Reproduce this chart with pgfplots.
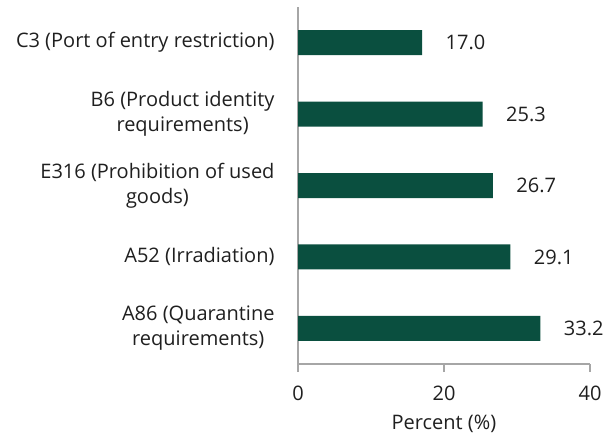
\documentclass[border=0pt]{standalone}
\usepackage{pgfplots}
\pgfplotsset{compat=1.18}
\usepackage{fontspec}
\setmainfont{Open Sans}
\definecolor{bargreen}{HTML}{0A4F3F}
\definecolor{axgray}{HTML}{A6A6A6}
\definecolor{txt}{HTML}{1F1F1F}
\newcommand{\lblfont}{\fontsize{20bp}{25bp}\selectfont}
\begin{document}
\begin{tikzpicture}
\begin{axis}[
  at={(298bp,71bp)}, anchor=south west,
  width=292bp, height=357bp, scale only axis,
  xbar, bar width=25bp, bar shift=0pt,
  xmin=0, xmax=40, ymin=0.5, ymax=5.5, y dir=reverse,
  xtick={0,20,40}, ytick={1,2,3,4,5},
  yticklabels={C3 (Port of entry restriction),
               {B6 (Product identity\\requirements)},
               {E316 (Prohibition of used\\goods)},
               A52 (Irradiation),
               {A86 (Quarantine\\requirements)}},
  axis x line*=bottom, axis y line*=left,
  axis line style={axgray, line width=1.5bp},
  xtick style={axgray, line width=1.5bp},
  ytick style={draw=none},
  tick align=outside, major tick length=8bp,
  /pgf/number format/assume math mode=true,
  xticklabel style={text=txt, font=\lblfont, yshift=-10bp},
  yticklabel style={text=txt, align=center, xshift=-12bp, font=\lblfont},
  xlabel={Percent (\%)},
  xlabel style={text=txt, font=\lblfont, yshift=-8bp},
  nodes near coords,
  nodes near coords style={text=txt, anchor=west, xshift=20bp,
    /pgf/number format/fixed, /pgf/number format/fixed zerofill,
    /pgf/number format/precision=1, font=\lblfont},
]
\addplot[fill=bargreen, draw=none] coordinates {
  (17.0,1) (25.3,2) (26.7,3) (29.1,4) (33.2,5)
};
\end{axis}
\pgfresetboundingbox
\path (0,0) rectangle (608bp,435bp);
\end{tikzpicture}
\end{document}
